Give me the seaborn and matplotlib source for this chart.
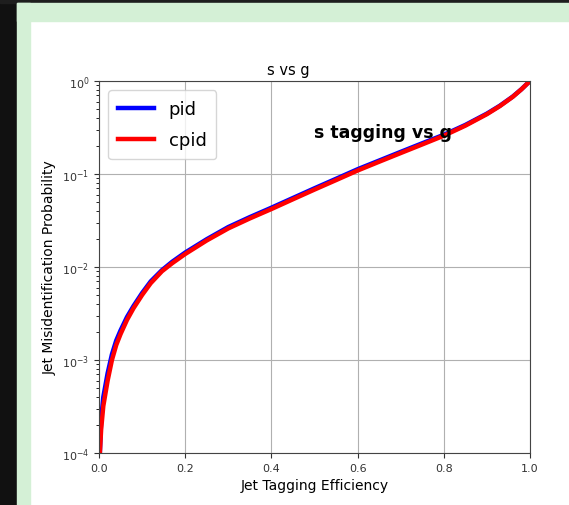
import matplotlib
matplotlib.use("Agg")
import matplotlib.pyplot as plt
import seaborn as sns
from matplotlib.patches import Rectangle

# tagging efficiency (x) and mis-id probability (y)
eff = [0.002, 0.005, 0.01, 0.02, 0.03, 0.04, 0.05, 0.065, 0.08, 0.10, 0.12, 0.146, 0.17,
       0.20, 0.25, 0.30, 0.35, 0.40, 0.45, 0.50, 0.55, 0.60, 0.65, 0.70, 0.75, 0.80,
       0.85, 0.90, 0.93, 0.96, 0.98, 1.0]
misid_pid = [1.0e-4, 2.3e-4, 4.0e-4, 7.2e-4, 1.15e-3, 1.62e-3, 2.08e-3, 2.9e-3, 3.8e-3, 5.25e-3,
             7.0e-3, 9.25e-3, 1.14e-2, 1.43e-2, 1.99e-2, 2.69e-2, 3.44e-2, 4.34e-2, 5.52e-2,
             7.02e-2, 8.88e-2, 1.125e-1, 1.395e-1, 1.73e-1, 2.14e-1, 2.64e-1, 3.37e-1,
             4.46e-1, 5.42e-1, 6.8e-1, 8.15e-1, 1.0]
misid_cpid = [1.0e-4, 1.8e-4, 3.2e-4, 6.0e-4, 1.0e-3, 1.45e-3, 1.9e-3, 2.7e-3, 3.6e-3, 5.0e-3,
              6.7e-3, 9.0e-3, 1.1e-2, 1.38e-2, 1.93e-2, 2.6e-2, 3.33e-2, 4.2e-2, 5.35e-2,
              6.8e-2, 8.6e-2, 1.09e-1, 1.355e-1, 1.68e-1, 2.08e-1, 2.58e-1, 3.31e-1,
              4.4e-1, 5.37e-1, 6.76e-1, 8.13e-1, 1.0]

x_ticks = [0.0, 0.2, 0.4, 0.6, 0.8, 1.0]

fig = plt.figure(figsize=(5.69, 5.06), dpi=100)
fig.patch.set_facecolor("white")

# screenshot frame: dark strip + light green border
fig.patches.append(Rectangle((0, 0), 17 / 569, 1, transform=fig.transFigure, color="#111111", zorder=-10))
fig.patches.append(Rectangle((0, 1 - 4 / 506), 1, 4 / 506, transform=fig.transFigure, color="#1e1e1e", zorder=-10))
fig.patches.append(Rectangle((17 / 569, 0), 13 / 569, 1 - 4 / 506, transform=fig.transFigure, color="#d4f0d6", zorder=-9))
fig.patches.append(Rectangle((17 / 569, 1 - 22 / 506), 1, 18 / 506, transform=fig.transFigure, color="#d4f0d6", zorder=-9))

ax = fig.add_axes([99 / 569, 1 - 454 / 506, 431 / 569, 372 / 506])

sns.lineplot(x=eff, y=misid_pid, ax=ax, color="blue", linewidth=3.2, label="pid", estimator=None)
sns.lineplot(x=eff, y=misid_cpid, ax=ax, color="red", linewidth=3.2, label="cpid", estimator=None)

ax.set_yscale("log")
ax.set_xlim(0, 1)
ax.set_ylim(1e-4, 1)
ax.set_xticks(x_ticks)
ax.grid(True, which="major", color="#b0b0b0", linewidth=0.8)
ax.tick_params(labelsize=8, colors="#333333")
for s in ax.spines.values():
    s.set_color("#444444")

ax.set_xlabel("Jet Tagging Efficiency", fontsize=10)
ax.set_ylabel("Jet Misidentification Probability", fontsize=10)
fig.text(288 / 569, 1 - 70 / 506, "s vs g", ha="center", va="center", fontsize=10.5)

ax.text(0.5, 0.25, "s tagging vs g", fontsize=12.5, fontweight="bold")

ax.legend(loc="upper left", fontsize=13, borderpad=0.55, labelspacing=0.75)

fig.savefig("out.png", dpi=100)
